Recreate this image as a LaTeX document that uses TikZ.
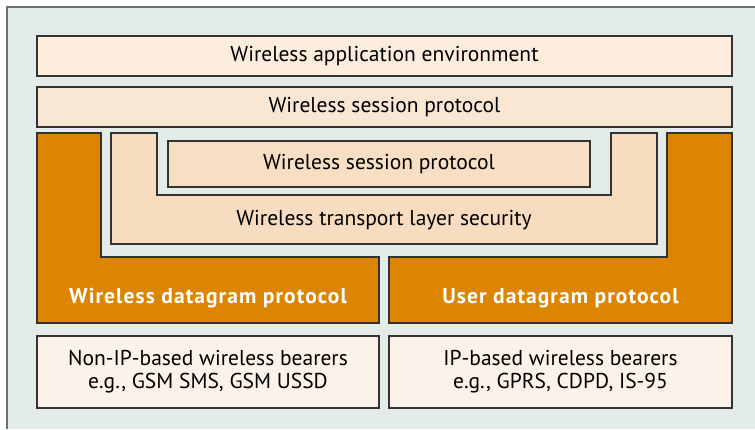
\documentclass[tikz,border=0pt]{standalone}
\usepackage{fontspec}
\setmainfont{PT Sans}
\definecolor{wapbg}{HTML}{E3ECE8}
\definecolor{wapframe}{HTML}{6E716F}
\definecolor{waeclr}{HTML}{FDEDDD}
\definecolor{wspclr}{HTML}{F9E6D3}
\definecolor{wtlsclr}{HTML}{F8DCBF}
\definecolor{wdpclr}{HTML}{DD8500}
\definecolor{bearclr}{HTML}{FDF2E9}
\usetikzlibrary{positioning}

\begin{document}
\begin{tikzpicture}[x=1pt,y=-1pt,
  layer/.style={draw=black!80,line width=1.2pt,inner sep=0pt,font=\fontsize{21.5}{23}\selectfont,align=center},
  ushape/.style={draw=black!80,line width=1.2pt},
  label/.style={font=\fontsize{21.5}{23}\selectfont,align=center,inner sep=0pt},
  dglabel/.style={label,text=white,font=\fontsize{21.5}{23}\selectfont\bfseries\addfontfeatures{LetterSpace=5}}]
  % frame
  \useasboundingbox (0,0) rectangle (755,429);
  \fill[white] (0,0) rectangle (755,429);
  \fill[wapbg] (7,7) rectangle (755,429);
  \draw[wapframe,line width=2pt] (7,429) -- (7,7) -- (755,7);
  % upper layers
  \node[layer,fill=waeclr,minimum width=695pt,minimum height=40pt] (wae) at (384.5,56) {Wireless application environment};
  \node[layer,fill=wspclr,minimum width=695pt,minimum height=40pt] (wsp) at (384.5,107) {Wireless session protocol};
  % transport security
  \draw[ushape,fill=wtlsclr] (111,133) -- (157,133) -- (157,195) -- (611,195) -- (611,133) -- (657,133) -- (657,244) -- (111,244) -- cycle;
  \node[label] (wtls) at (384,220) {Wireless transport layer security};
  \node[layer,fill=wtlsclr!80!wspclr,minimum width=422pt,minimum height=46pt] (wspin) at (379,164) {Wireless session protocol};
  % datagram layers
  \draw[ushape,fill=wdpclr] (37,133) -- (101,133) -- (101,257) -- (379,257) -- (379,323) -- (37,323) -- cycle;
  \draw[ushape,fill=wdpclr] (667,133) -- (732,133) -- (732,323) -- (389,323) -- (389,257) -- (667,257) -- cycle;
  \node[dglabel] (wdp) at (208,298) {Wireless datagram protocol};
  \node[dglabel] (udp) at (560.5,298) {User datagram protocol};
  % bearers
  \node[layer,fill=bearclr,minimum width=342pt,minimum height=72pt] (nonip) at (208,372) {Non-IP-based wireless bearers\\e.g., GSM SMS, GSM USSD};
  \node[layer,fill=bearclr,minimum width=343pt,minimum height=72pt] (ip) at (560.5,372) {IP-based wireless bearers\\e.g., GPRS, CDPD, IS-95};
\end{tikzpicture}
\end{document}
